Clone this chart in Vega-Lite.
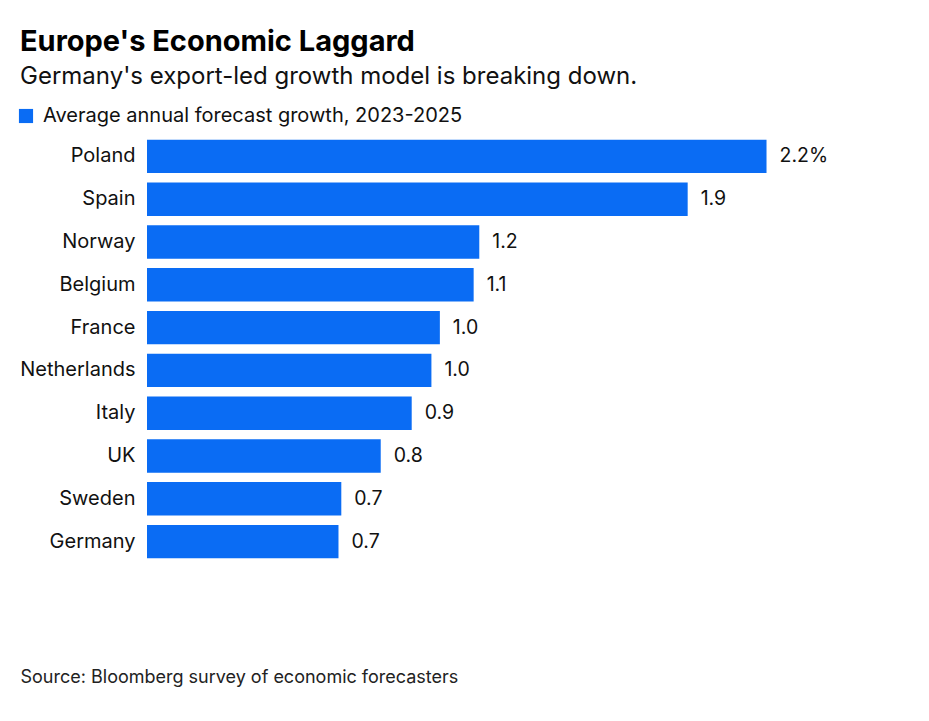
{
  "$schema": "https://vega.github.io/schema/vega-lite/v6.json",
  "autosize": "none",
  "width": 704,
  "height": 428,
  "padding": {"left": 147, "top": 135, "right": 78, "bottom": 158},
  "background": "white",
  "title": {
    "text": "Europe's Economic Laggard",
    "subtitle": "Germany's export-led growth model is breaking down.",
    "anchor": "start",
    "frame": "group",
    "dx": -127,
    "offset": 17,
    "font": "Inter",
    "fontSize": 29,
    "fontWeight": "bold",
    "color": "#000000",
    "subtitleFont": "Inter",
    "subtitleFontSize": 24,
    "subtitleColor": "#111111",
    "subtitlePadding": 8
  },
  "config": {
    "view": {"stroke": null},
    "font": "Inter"
  },
  "data": {
    "values": [
      {"country": "Poland", "growth": 2.2, "label": "2.2%", "series": "Average annual forecast growth, 2023-2025"},
      {"country": "Spain", "growth": 1.92, "label": "1.9", "series": "Average annual forecast growth, 2023-2025"},
      {"country": "Norway", "growth": 1.18, "label": "1.2", "series": "Average annual forecast growth, 2023-2025"},
      {"country": "Belgium", "growth": 1.16, "label": "1.1", "series": "Average annual forecast growth, 2023-2025"},
      {"country": "France", "growth": 1.04, "label": "1.0", "series": "Average annual forecast growth, 2023-2025"},
      {"country": "Netherlands", "growth": 1.01, "label": "1.0", "series": "Average annual forecast growth, 2023-2025"},
      {"country": "Italy", "growth": 0.94, "label": "0.9", "series": "Average annual forecast growth, 2023-2025"},
      {"country": "UK", "growth": 0.83, "label": "0.8", "series": "Average annual forecast growth, 2023-2025"},
      {"country": "Sweden", "growth": 0.69, "label": "0.7", "series": "Average annual forecast growth, 2023-2025"},
      {"country": "Germany", "growth": 0.68, "label": "0.7", "series": "Average annual forecast growth, 2023-2025"}
    ]
  },
  "encoding": {
    "y": {
      "field": "country",
      "type": "nominal",
      "sort": null,
      "scale": {"paddingInner": 0.22, "paddingOuter": 0.11},
      "axis": {
        "title": null,
        "ticks": false,
        "domain": false,
        "labelPadding": 12,
        "labelFontSize": 20,
        "labelColor": "#111111",
        "labelFont": "Inter"
      }
    },
    "x": {
      "field": "growth",
      "type": "quantitative",
      "scale": {"domain": [0, 2.5], "nice": false},
      "axis": {
        "title": "Source: Bloomberg survey of economic forecasters",
        "titleAnchor": "start",
        "titleX": -127,
        "titleY": 105,
        "titleFont": "Inter",
        "titleFontSize": 18,
        "titleFontWeight": "normal",
        "titleColor": "#222222",
        "labels": false,
        "ticks": false,
        "domain": false,
        "grid": false
      }
    }
  },
  "layer": [
    {
      "mark": {"type": "bar", "color": "#0a6cf4"},
      "encoding": {
        "color": {
          "field": "series",
          "type": "nominal",
          "scale": {"range": ["#0a6cf4"]},
          "legend": {
            "title": null,
            "orient": "none",
            "legendX": -131,
            "legendY": -29,
            "symbolType": "square",
            "symbolSize": 200,
            "symbolStrokeWidth": 0,
            "labelOffset": 7,
            "labelFontSize": 20,
            "labelFont": "Inter",
            "labelColor": "#111111",
            "labelLimit": 600
          }
        }
      }
    },
    {
      "mark": {"type": "text", "align": "left", "dx": 13, "fontSize": 19.5, "font": "Inter", "color": "#111111"},
      "encoding": {"text": {"field": "label"}}
    }
  ]
}
